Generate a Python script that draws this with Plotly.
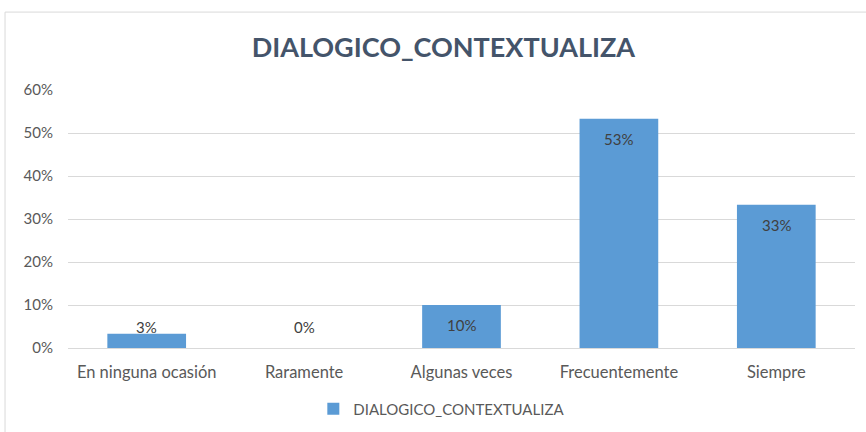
import plotly.graph_objects as go

categorias = ["En ninguna ocasión", "Raramente", "Algunas veces", "Frecuentemente", "Siempre"]
valores = [0.0333, 0.0, 0.10, 0.5333, 0.3333]
etiquetas = ["3%", "0%", "10%", "53%", "33%"]
ticks_y = [0, 0.1, 0.2, 0.3, 0.4, 0.5, 0.6]
ticks_y_txt = ["0%", "10%", "20%", "30%", "40%", "50%", "60%"]

font = "Lato, 'Open Sans', sans-serif"
gris = "#595959"

fig = go.Figure(go.Bar(
    x=categorias,
    y=valores,
    marker=dict(color="#5b9bd5", line=dict(width=0)),
    name="DIALOGICO_CONTEXTUALIZA",
    showlegend=True,
))

# etiquetas tipo Excel "extremo interno": dentro de la barra, sin bajar del eje
px = 0.6 / 258
for cat, v, t in zip(categorias, valores, etiquetas):
    fig.add_annotation(
        x=cat, y=max(v - 20 * px, 21 * px), text=t, showarrow=False,
        yanchor="middle", font=dict(family=font, size=15, color="#404040"),
    )

fig.update_layout(
    width=866, height=432,
    margin=dict(l=68, r=11, t=90, b=84, autoexpand=False),
    paper_bgcolor="white",
    plot_bgcolor="white",
    bargap=0.5,
    title=dict(
        text="DIALOGICO_CONTEXTUALIZA",
        x=0.512, xanchor="center", y=0.89, yanchor="middle",
        font=dict(family=font, size=27, color="#44546a", weight="bold"),
    ),
    font=dict(family=font, size=15, color=gris),
    xaxis=dict(
        showgrid=False, showline=True, linecolor="#d9d9d9",
        tickfont=dict(family=font, size=16.5, color=gris),
        ticklabelstandoff=9, automargin=False,
    ),
    yaxis=dict(
        range=[0, 0.6], tickvals=ticks_y, ticktext=ticks_y_txt,
        showgrid=True, gridcolor="#d9d9d9", zeroline=False,
        tickfont=dict(family=font, size=15, color=gris),
        ticklabelstandoff=14, automargin=False,
    ),
    legend=dict(
        orientation="h", x=0.475, xanchor="center",
        yref="container", y=0.053, yanchor="middle",
        font=dict(family=font, size=15, color=gris),
        itemwidth=30,
    ),
    shapes=[
        dict(type="line", xref="paper", yref="paper", x0=-0.08, x1=1.2, y0=1.302, y1=1.302,
             line=dict(color="#d9d9d9", width=1)),
        dict(type="line", xref="paper", yref="paper", x0=-0.08, x1=-0.08, y0=1.302, y1=-0.5,
             line=dict(color="#d9d9d9", width=1)),
    ],
)

fig.write_html("out.html", config={"displayModeBar": False},
               post_script="document.body.style.margin='0';")
